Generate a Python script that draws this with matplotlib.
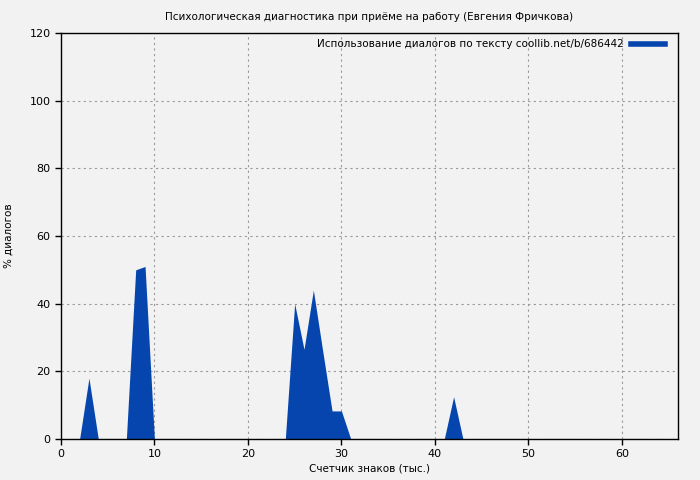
import matplotlib

matplotlib.use("Agg")
import matplotlib.pyplot as plt

# x in thousands of characters, one point per 1k
x_vals = list(range(0, 66))
y_vals = [0] * 66
peaks = {
    3: 18,
    8: 50, 9: 51,
    25: 40, 26: 26.5, 27: 44, 28: 26, 29: 8.3, 30: 8.3,
    42: 12.5,
}
for k, v in peaks.items():
    y_vals[k] = v

title = "Психологическая диагностика при приёме на работу (Евгения Фричкова)"
legend_label = "Использование диалогов по тексту coollib.net/b/686442"
x_label = "Счетчик знаков (тыс.)"
y_label = "% диалогов"
x_ticks = [0, 10, 20, 30, 40, 50, 60]
y_ticks = [0, 20, 40, 60, 80, 100, 120]

bg = "#f2f2f2"
fill_color = "#0645ad"

fig = plt.figure(figsize=(7, 4.8), dpi=100, facecolor=bg)
ax = fig.add_axes([0.087, 0.0854, 0.8816, 0.8459], facecolor=bg)

ax.fill_between(x_vals, y_vals, 0, color=fill_color, linewidth=0, label=legend_label)

ax.set_xlim(0, 66)
ax.set_ylim(0, 120)
ax.set_xticks(x_ticks)
ax.set_yticks(y_ticks)
ax.tick_params(labelsize=8, direction="out", length=4, width=1)
ax.grid(True, color="#999999", linestyle=(0, (2, 3)), linewidth=0.8)
ax.set_axisbelow(True)
for s in ax.spines.values():
    s.set_linewidth(1)

ax.set_xlabel(x_label, fontsize=7.5, labelpad=3)
ax.set_ylabel(y_label, fontsize=7.5, labelpad=11)
ax.set_title(title, fontsize=7.5, pad=9)

handle = plt.Line2D([], [], color=fill_color, linewidth=4)
ax.legend([handle], [legend_label], loc="upper right", frameon=False, fontsize=7.5,
          markerfirst=False, handlelength=3.2, handletextpad=0.7, borderaxespad=0.0,
          bbox_to_anchor=(0.985, 0.995))

fig.savefig("out.png", dpi=100, facecolor=bg)
